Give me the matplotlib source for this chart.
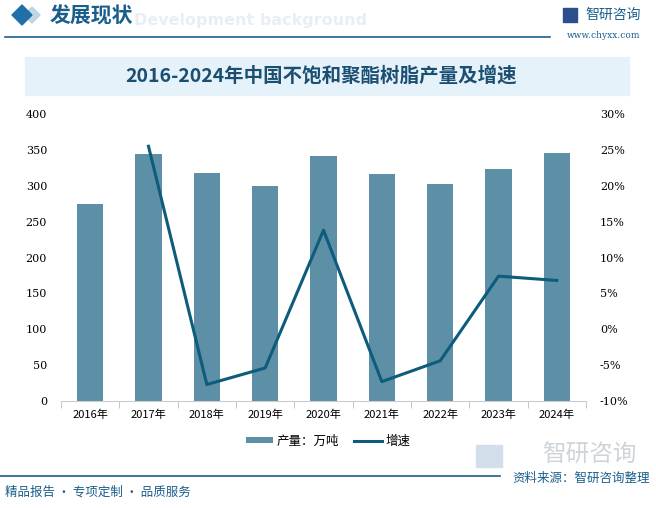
import matplotlib.pyplot as plt
from matplotlib.patches import Rectangle, Polygon
from matplotlib.ticker import FuncFormatter

plt.rcParams['font.family'] = ['Noto Sans CJK SC', 'DejaVu Sans']

years = ['2016年', '2017年', '2018年', '2019年', '2020年', '2021年', '2022年', '2023年', '2024年']
output = [274, 344, 318, 300, 341, 316, 302, 323, 346]
growth = [25.5, -7.7, -5.4, 13.8, -7.3, -4.4, 7.4, 6.8]

bar_color = '#5d8fa7'
line_color = '#0d5c7c'
blue = '#1a5e8c'

W, H = 656, 508
fig = plt.figure(figsize=(W / 100, H / 100), dpi=100)

def fx(x):
    return x / W

def fy(y):
    return 1 - y / H

# header
fig.text(fx(134), fy(21), 'Development background', fontsize=11.5, color='#e8eef4',
         fontweight='bold', ha='left', va='center', family='DejaVu Sans', zorder=0)
fig.patches.append(Polygon([(fx(24), fy(15)), (fx(32), fy(7)), (fx(40), fy(15)), (fx(32), fy(23))],
                           closed=True, transform=fig.transFigure, color='#a9c8e0', alpha=0.7, zorder=1))
fig.patches.append(Polygon([(fx(12), fy(15)), (fx(22), fy(5)), (fx(32), fy(15)), (fx(22), fy(25))],
                           closed=True, transform=fig.transFigure, color='#1f6fa8', zorder=2))
fig.text(fx(50), fy(16), '发展现状', fontsize=15, color='#1a5e8c', fontweight='bold', ha='left', va='center')
fig.lines.append(plt.Line2D([fx(5), fx(550)], [fy(37), fy(37)], transform=fig.transFigure,
                            color=blue, lw=1.2))
fig.text(fx(585), fy(15), '智研咨询', fontsize=10, color='#1a5e8c', ha='left', va='center')
fig.patches.append(Rectangle((fx(563), fy(22)), fx(14), 14 / H, transform=fig.transFigure, color='#2a4f8a'))
fig.text(fx(640), fy(35), 'www.chyxx.com', fontsize=6.5, color='#1a5e8c', ha='right', va='center',
         family='DejaVu Serif')

# title box
fig.patches.append(Rectangle((fx(25), fy(95)), fx(604), 38 / H, transform=fig.transFigure,
                             color='#e6f2fa', zorder=0))
fig.text(fx(321), fy(76), '2016-2024年中国不饱和聚酯树脂产量及增速', fontsize=14, color='#1b4f72',
         fontweight='bold', ha='center', va='center')

# main chart
ax = fig.add_axes([fx(61), fy(401), fx(586 - 61), (401 - 114) / H])
x = list(range(len(years)))
ax.bar(x, output, width=0.45, color=bar_color, label='产量：万吨', zorder=2)
ax.set_ylim(0, 400)
ax.set_yticks(range(0, 401, 50))
ax.set_xlim(-0.5, len(years) - 0.5)
ax.set_xticks(x)
ax.set_xticklabels(years, fontsize=8)
ax.set_xticks([i + 0.5 for i in range(-1, len(years))], minor=True)
ax.tick_params(axis='x', which='major', length=0, pad=6)
ax.tick_params(axis='x', which='minor', length=5, color='#bbbbbb')
ax.tick_params(axis='y', length=0, labelsize=8, pad=10)
for s in ['top', 'right', 'left']:
    ax.spines[s].set_visible(False)
ax.spines['bottom'].set_color('#cccccc')
for lab in ax.get_yticklabels():
    lab.set_family('DejaVu Serif')

ax2 = ax.twinx()
ax2.plot(x[1:], growth, color=line_color, lw=2.2, label='增速', zorder=3)
ax2.set_ylim(-10, 30)
ax2.set_yticks(range(-10, 31, 5))
ax2.yaxis.set_major_formatter(FuncFormatter(lambda v, p: f'{v:.0f}%'))
ax2.tick_params(axis='y', length=0, labelsize=8, pad=10)
for s in ['top', 'right', 'left', 'bottom']:
    ax2.spines[s].set_visible(False)
for lab in ax2.get_yticklabels():
    lab.set_family('DejaVu Serif')

h1, l1 = ax.get_legend_handles_labels()
h2, l2 = ax2.get_legend_handles_labels()
fig.legend(h1 + h2, l1 + l2, loc='center', bbox_to_anchor=(fx(328), fy(441)), ncol=2,
           frameon=False, fontsize=9, handlelength=2.2, handleheight=0.4, columnspacing=1.2,
           handletextpad=0.3)

# footer watermark logo
fig.patches.append(Rectangle((fx(476), fy(467)), fx(26), 22 / H, transform=fig.transFigure,
                             color='#d3deeb', zorder=0))
fig.text(fx(637), fy(455), '智研咨询', fontsize=17, color='#cfd4d9', ha='right', va='center', zorder=0)
fig.lines.append(plt.Line2D([fx(0), fx(500)], [fy(476), fy(476)], transform=fig.transFigure,
                            color=blue, lw=1.2))
fig.text(fx(650), fy(478), '资料来源：智研咨询整理', fontsize=9, color='#1a5e8c', ha='right', va='center')
fig.text(fx(5), fy(492), '精品报告 · 专项定制 · 品质服务', fontsize=9, color='#1a5e8c', ha='left', va='center')

fig.savefig('out.png', dpi=100)
